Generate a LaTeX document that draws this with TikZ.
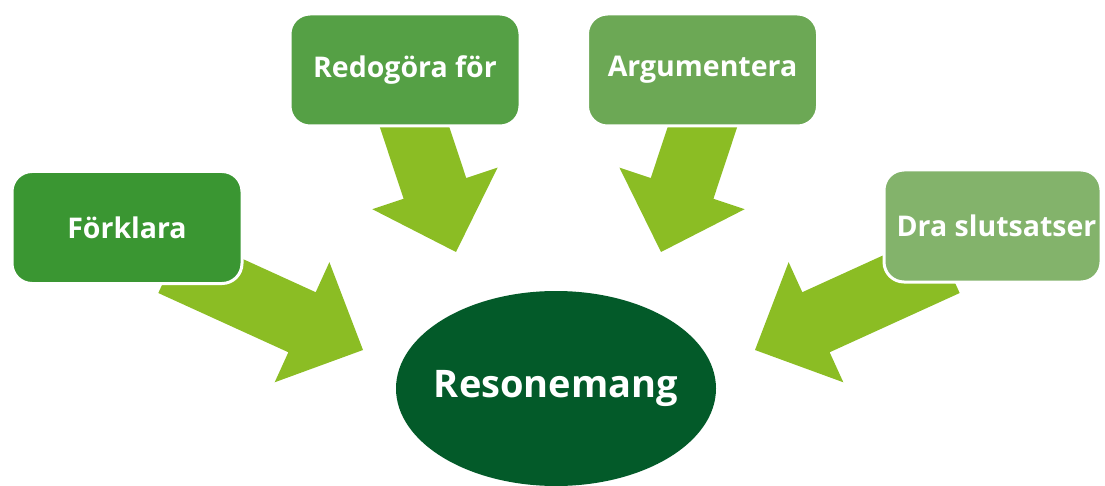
\documentclass[tikz,border=0pt]{standalone}
\usepackage{fontspec}
\setmainfont{Open Sans}
\usetikzlibrary{calc,shapes.geometric}

\definecolor{boxA}{RGB}{58,150,50}
\definecolor{boxB}{RGB}{85,160,69}
\definecolor{boxC}{RGB}{108,168,85}
\definecolor{boxD}{RGB}{131,179,107}
\definecolor{arrowgreen}{RGB}{139,189,36}
\definecolor{hubgreen}{RGB}{3,90,41}

\pgfdeclarelayer{bg}
\pgfsetlayers{bg,main}

\tikzset{
  verbbox/.style={rectangle, rounded corners=20pt, draw=white, line width=3pt,
    minimum width=230pt, minimum height=112pt, inner sep=0pt, text=white,
    font=\fontsize{28.5}{32}\selectfont\bfseries},
  hub/.style={ellipse, fill=hubgreen, minimum width=320pt, minimum height=195pt,
    inner sep=0pt, text=white, font=\fontsize{38}{44}\selectfont\bfseries},
  % fat block arrow from tail centre to tip
  blockarrow/.style={fill=arrowgreen, draw=none,
    to path={
      ($(\tikztotarget)!67pt!(\tikztostart)$) coordinate (ba-h)
      ($(\tikztostart)!33pt!90:(\tikztotarget)$)
      -- ($(ba-h)!33pt!90:(\tikztotarget)$)
      -- ($(ba-h)!66pt!90:(\tikztotarget)$)
      -- (\tikztotarget)
      -- ($(ba-h)!66pt!-90:(\tikztotarget)$)
      -- ($(ba-h)!33pt!-90:(\tikztotarget)$)
      -- ($(\tikztostart)!33pt!-90:(\tikztotarget)$)
      -- cycle}}
}

\begin{document}
\begin{tikzpicture}[x=1pt,y=-1pt]
  \useasboundingbox (0,0) rectangle (1105,486);

  % the four activities and the central notion
  \node[verbbox, fill=boxA] (fork) at (127,227.5) {Förklara};
  \node[verbbox, fill=boxB] (redo) at (405,70) {Redogöra för};
  \node[verbbox, fill=boxC] (argu) at (702.5,70) {Argumentera};
  \node[verbbox, fill=boxD, minimum width=217pt] (dra) at (992.5,226) {\hspace*{8pt}Dra slutsatser};
  \node[hub] (reso) at (556,388.5) {\makebox[0pt]{Resonemang}};

  % tails and tips of the arrows
  \coordinate (s1) at (172,263);   \coordinate (t1) at (363,350);
  \coordinate (s2) at (393,62);    \coordinate (t2) at (456,252);
  \coordinate (s3) at (724,62);    \coordinate (t3) at (661,252);
  \coordinate (s4) at (946,263);   \coordinate (t4) at (755,350);

  \begin{pgfonlayer}{bg}
    \path[blockarrow] (s1) to (t1);
    \path[blockarrow] (s2) to (t2);
    \path[blockarrow] (s3) to (t3);
    \path[blockarrow] (s4) to (t4);
  \end{pgfonlayer}
\end{tikzpicture}
\end{document}
